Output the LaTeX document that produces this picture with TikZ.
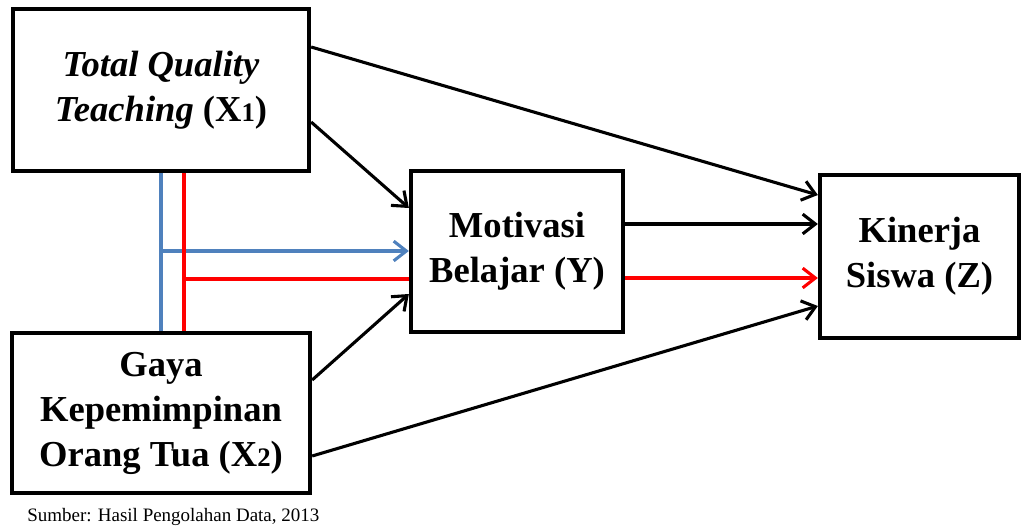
\documentclass[tikz,border=0pt]{standalone}
\usepackage{xcolor}
\usepackage{fontspec}
\setmainfont{Liberation Serif}
\usetikzlibrary{arrows.meta}

\definecolor{lineblue}{RGB}{79,129,189}
\definecolor{linered}{RGB}{255,0,0}

\begin{document}
\begin{tikzpicture}[x=0.025cm, y=-0.025cm,
    box/.style={draw, line width=3pt, align=center,
      font=\fontsize{26}{32}\selectfont\bfseries, inner sep=0pt},
    link/.style={line width=2.2pt, -{Straight Barb[length=9pt,width=14pt,line width=2.2pt]}},
    tie/.style={line width=2.2pt}]
          \useasboundingbox (0,0) rectangle (1023,527);

          \node[box, minimum width=7.4cm, minimum height=4.05cm] (x1) at (161,90)
            {\textit{Total Quality}\\\textit{Teaching} (X{\fontsize{19}{19}\selectfont 1})};
          \node[box, minimum width=7.45cm, minimum height=4.0cm] (x2) at (161,413)
            {Gaya\\Kepemimpinan\\Orang Tua (X{\fontsize{19}{19}\selectfont 2})};
          \node[box, minimum width=5.3cm, minimum height=4.025cm] (y) at (517,251.5)
            {Motivasi\\Belajar (Y)};
          \node[box, minimum width=4.975cm, minimum height=4.075cm] (z) at (919.5,256.5)
            {Kinerja\\Siswa (Z)};

          \node[anchor=west, inner sep=0pt, font=\fontsize{13.5}{16}\selectfont] (src) at (27,517)
            {Sumber: Hasil Pengolahan Data, 2013};

          % direct paths
          \draw[link] (x1.east |- 0,47) -- (z.west |- 0,195);
          \draw[link] (x1.east |- 0,122) -- (y.west |- 0,208);
          \draw[link] (x2.east |- 0,380) -- (y.west |- 0,294);
          \draw[link] (x2.east |- 0,456) -- (z.west |- 0,306);
          \draw[link] (y.east |- 0,224) -- (z.west |- 0,224);
          \draw[link, linered] (y.east |- 0,278) -- (z.west |- 0,278);

          % joint paths
          \draw[tie, lineblue] (x1.south) -- (x2.north);
          \coordinate (bj) at (161,251);
          \draw[link, lineblue] (bj) -- (y.west |- bj);
          \draw[tie, linered] (x1.south -| 184,0) -- (x2.north -| 184,0);
          \coordinate (rj) at (184,279);
          \draw[tie, linered] (rj) -- (y.west |- rj);

          \end{tikzpicture}
\end{document}
